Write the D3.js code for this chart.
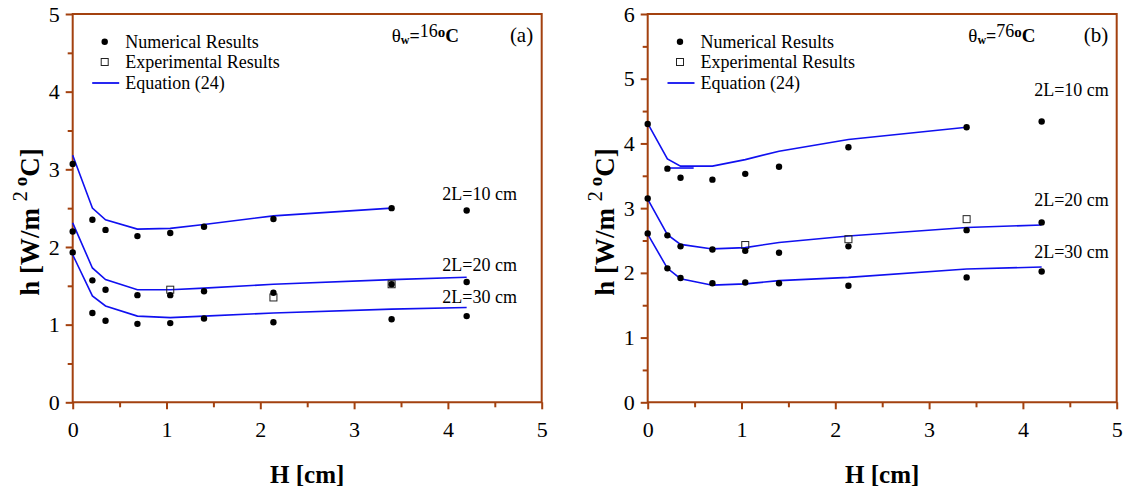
<!DOCTYPE html>
<meta charset="utf-8">
<script src="https://d3js.org/d3.v7.min.js"></script>
<style>
  body { margin: 0; background: #fff; }
  text { font-family: "Liberation Serif", "Times New Roman", serif !important; }
</style>
<div id="chart"></div>
<script>
  // H positions [cm] of the computed points
  const H = [0, 0.21, 0.35, 0.69, 1.04, 1.40, 2.14, 3.40, 4.20];
  const H_EXP = [1.04, 2.14, 3.40];

  // panel (a), theta_w = 16 C
  const numA10 = [3.07, 2.35, 2.22, 2.14, 2.18, 2.26, 2.36, 2.50, 2.47];
  const numA20 = [2.20, 1.57, 1.45, 1.38, 1.38, 1.43, 1.41, 1.52, 1.55];
  const numA30 = [1.93, 1.15, 1.05, 1.01, 1.02, 1.08, 1.03, 1.07, 1.11];
  const eqA10 = [3.18, 2.50, 2.35, 2.23, 2.24, 2.29, 2.40, 2.50];
  const eqA20 = [2.31, 1.73, 1.58, 1.45, 1.45, 1.47, 1.52, 1.58, 1.61];
  const eqA30 = [1.90, 1.37, 1.24, 1.11, 1.09, 1.11, 1.15, 1.20, 1.22];
  const expA = [1.45, 1.35, 1.52];

  // panel (b), theta_w = 76 C
  const numB10 = [4.30, 3.61, 3.47, 3.44, 3.53, 3.64, 3.94, 4.25, 4.34];
  const numB20 = [3.15, 2.58, 2.41, 2.36, 2.34, 2.31, 2.41, 2.66, 2.78];
  const numB30 = [2.61, 2.07, 1.92, 1.84, 1.85, 1.84, 1.80, 1.93, 2.02];
  const eqB10 = [4.31, 3.76, 3.65, 3.65, 3.75, 3.88, 4.06, 4.25];
  const eqB20 = [3.14, 2.59, 2.44, 2.37, 2.39, 2.47, 2.57, 2.70, 2.74];
  const eqB30 = [2.60, 2.07, 1.91, 1.81, 1.83, 1.88, 1.93, 2.06, 2.09];
  const expB = [2.43, 2.52, 2.83];
  // little stray segment of the 2L=10 curve in (b)
  const stubBH = [0.21, 0.49];
  const stubB = [3.62, 3.62];

  const seriesLabels = ["2L=10 cm", "2L=20 cm", "2L=30 cm"];
  const legendLabels = ["Numerical Results", "Experimental Results", "Equation (24)"];

  const AX = "#a3410f";
  const BLUE = "#1010f0";
  const SERIF = "Liberation Serif, Times New Roman, serif";

  var svg = d3.select("#chart").append("svg")
    .attr("width", 1127)
    .attr("height", 490)
    .attr("font-family", SERIF);

  function zip(xs, ys) {
    return ys.map(function (v, i) { return [xs[i], v]; });
  }

  function drawPanel(p) {
    var x = d3.scaleLinear().domain([0, 5]).range([p.left, p.right]);
    var y = d3.scaleLinear().domain([0, p.yMax]).range([402.3, 14]);
    var g = svg.append("g");

    // frame
    g.append("path")
      .attr("d", "M" + p.left + "," + y(p.yMax) + "H" + p.right + "V" + y(0) + "H" + p.left + "Z")
      .attr("fill", "none")
      .attr("stroke", AX)
      .attr("stroke-width", 2);

    // y axis, major + minor
    var ya = g.append("g").attr("transform", "translate(" + p.left + ",0)")
      .call(d3.axisLeft(y).tickValues(d3.range(0, p.yMax + 1)).tickSize(7).tickPadding(6).tickFormat(d3.format("d")));
    var ym = g.append("g").attr("transform", "translate(" + p.left + ",0)")
      .call(d3.axisLeft(y).tickValues(d3.range(0.5, p.yMax, 1)).tickSize(5).tickFormat(""));
    // x axis, major + minor
    var xa = g.append("g").attr("transform", "translate(0," + y(0) + ")")
      .call(d3.axisBottom(x).tickValues(d3.range(0, 6)).tickSize(7).tickPadding(12).tickFormat(d3.format("d")));
    var xm = g.append("g").attr("transform", "translate(0," + y(0) + ")")
      .call(d3.axisBottom(x).tickValues(d3.range(0.5, 5, 1)).tickSize(5).tickFormat(""));

    [ya, ym, xa, xm].forEach(function (a) {
      a.attr("font-family", SERIF).attr("font-size", 22);
      a.select(".domain").remove();
      a.selectAll("line").attr("stroke", AX).attr("stroke-width", 2);
      a.selectAll("text").attr("fill", "#000");
    });

    // axis titles
    g.append("text")
      .attr("x", (p.left + p.right) / 2)
      .attr("y", 483)
      .attr("text-anchor", "middle")
      .attr("font-size", 25)
      .attr("font-weight", "bold")
      .text("H [cm]");

    var yt = g.append("text")
      .attr("transform", "translate(" + (p.left - 34) + ",222) rotate(-90)")
      .attr("text-anchor", "middle")
      .attr("font-size", 27)
      .attr("font-weight", "bold");
    yt.append("tspan").text("h [W/m ");
    yt.append("tspan").attr("font-size", 20).attr("font-weight", "normal").attr("dy", -12).text("2 ");
    yt.append("tspan").attr("font-size", 19).text("o");
    yt.append("tspan").attr("dy", 12).text("C]");

    // equation curves
    var line = d3.line().x(function (d) { return x(d[0]); }).y(function (d) { return y(d[1]); });
    p.eq.forEach(function (s) {
      g.append("path")
        .datum(zip(H, s))
        .attr("d", line)
        .attr("fill", "none")
        .attr("stroke", BLUE)
        .attr("stroke-width", 1.6);
    });
    if (p.stub) {
      g.append("path")
        .datum(zip(p.stub[0], p.stub[1]))
        .attr("d", line)
        .attr("fill", "none")
        .attr("stroke", BLUE)
        .attr("stroke-width", 1.6);
    }

    // experimental squares
    g.selectAll(".exp")
      .data(zip(H_EXP, p.exp))
      .enter().append("rect")
      .attr("x", function (d) { return x(d[0]) - 3.5; })
      .attr("y", function (d) { return y(d[1]) - 3.5; })
      .attr("width", 7)
      .attr("height", 7)
      .attr("fill", "none")
      .attr("stroke", "#222")
      .attr("stroke-width", 1);

    // numerical dots
    p.num.forEach(function (s) {
      g.selectAll(null)
        .data(zip(H, s))
        .enter().append("circle")
        .attr("cx", function (d) { return x(d[0]); })
        .attr("cy", function (d) { return y(d[1]); })
        .attr("r", 3.2)
        .attr("fill", "#000");
    });

    // series labels
    seriesLabels.forEach(function (t, i) {
      g.append("text")
        .attr("x", x(p.lab[i][0]))
        .attr("y", y(p.lab[i][1]))
        .attr("font-size", 18)
        .text(t);
    });

    // legend
    var lx = p.legX;
    g.append("circle").attr("cx", lx).attr("cy", 41.7).attr("r", 3.2).attr("fill", "#000");
    g.append("rect").attr("x", lx - 3.5).attr("y", 58.5).attr("width", 7).attr("height", 7)
      .attr("fill", "none").attr("stroke", "#222").attr("stroke-width", 1);
    g.append("line").attr("x1", lx - 12.5).attr("x2", lx + 14.5).attr("y1", 83).attr("y2", 83)
      .attr("stroke", BLUE).attr("stroke-width", 1.8);
    legendLabels.forEach(function (t, i) {
      g.append("text")
        .attr("x", lx + 20.5)
        .attr("y", 47.5 + i * 20.6)
        .attr("font-size", 18)
        .text(t);
    });

    // wall temperature + panel letter
    var tt = g.append("text").attr("x", p.thetaX).attr("y", 41.7).attr("font-size", 19);
    tt.append("tspan").text("θ");
    tt.append("tspan").attr("font-size", 12).attr("font-weight", "bold").attr("dy", 2).text("w");
    tt.append("tspan").attr("font-size", 18).attr("font-weight", "bold").attr("dy", -2).text("=");
    tt.append("tspan").attr("font-size", 18).attr("dy", -5).text(p.temp);
    tt.append("tspan").attr("font-size", 15).attr("font-weight", "bold").text("o");
    tt.append("tspan").attr("font-size", 19).attr("font-weight", "bold").attr("dy", 5).text("C");

    g.append("text")
      .attr("x", p.right - 8.5)
      .attr("y", 41.7)
      .attr("text-anchor", "end")
      .attr("font-size", 21)
      .text(p.letter);
  }

  drawPanel({
    left: 72.7, right: 541.7, yMax: 5,
    num: [numA10, numA20, numA30],
    eq: [eqA10, eqA20, eqA30],
    exp: expA,
    lab: [[3.94, 2.605], [3.94, 1.695], [3.94, 1.275]],
    legX: 104.7, thetaX: 391.7, temp: "16", letter: "(a)"
  });

  drawPanel({
    left: 647.7, right: 1116.7, yMax: 6,
    num: [numB10, numB20, numB30],
    eq: [eqB10, eqB20, eqB30],
    stub: [stubBH, stubB],
    exp: expB,
    lab: [[4.12, 4.726], [4.12, 3.035], [4.12, 2.227]],
    legX: 680, thetaX: 968.3, temp: "76", letter: "(b)"
  });
</script>
